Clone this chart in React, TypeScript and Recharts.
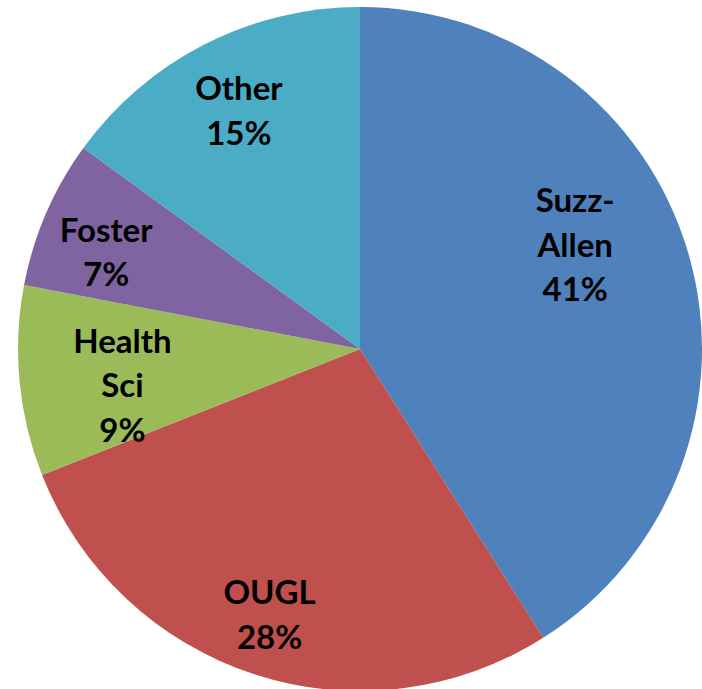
import React from 'react';
import { PieChart, Pie, Cell } from 'recharts';

const categories = ['Suzz-Allen', 'OUGL', 'Health Sci', 'Foster', 'Other'];
const shares = [41, 28, 9, 7, 15];
const colors = ['#4F81BD', '#C0504D', '#9BBB59', '#8064A2', '#4BACC6'];

const data = categories.map((name, i) => ({ name, value: shares[i] }));

const RAD = Math.PI / 180;
const FONT_SIZE = 33;
const LINE_H = 44.5;
// small hand nudges so labels sit where Excel's best-fit put them
const labelNudge: [number, number][] = [[-41, -31], [-8, 11], [28, 10], [-9, 8], [0, -2]];

// split "Suzz-Allen" after the hyphen and "Health Sci" at the space
const splitName = (name: string) => name.replace('-', '-\n').split(/\n| /);

const renderLabel = (props: any) => {
  const { cx, cy, midAngle, outerRadius, percent, name, index } = props;
  const r = outerRadius * 0.78;
  const [nx, ny] = labelNudge[index] || [0, 0];
  const x = cx + r * Math.cos(-midAngle * RAD) + nx;
  const y = cy + r * Math.sin(-midAngle * RAD) + ny;
  const lines = [...splitName(name), `${Math.round(percent * 100)}%`];
  const startY = y - ((lines.length - 1) * LINE_H) / 2;
  return (
    <text
      x={x}
      y={startY}
      textAnchor="middle"
      dominantBaseline="central"
      fill="#000"
      fontFamily="Lato, 'Open Sans', sans-serif"
      fontWeight="bold"
      fontSize={FONT_SIZE}
    >
      {lines.map((line, i) => (
        <tspan key={i} x={x} y={startY + i * LINE_H}>
          {line}
        </tspan>
      ))}
    </text>
  );
};

export default function App() {
  return (
    <div style={{ position: 'absolute', left: 0, top: 0, width: 702, height: 689, background: '#fff' }}>
      <PieChart width={702} height={689} margin={{ top: 0, right: 0, bottom: 0, left: 0 }}>
        <Pie
          data={data}
          dataKey="value"
          nameKey="name"
          cx={360}
          cy={349}
          outerRadius={342}
          startAngle={90}
          endAngle={-270}
          stroke="none"
          labelLine={false}
          label={renderLabel}
          isAnimationActive={false}
        >
          {data.map((d, i) => (
            <Cell key={d.name} fill={colors[i]} />
          ))}
        </Pie>
      </PieChart>
    </div>
  );
}
